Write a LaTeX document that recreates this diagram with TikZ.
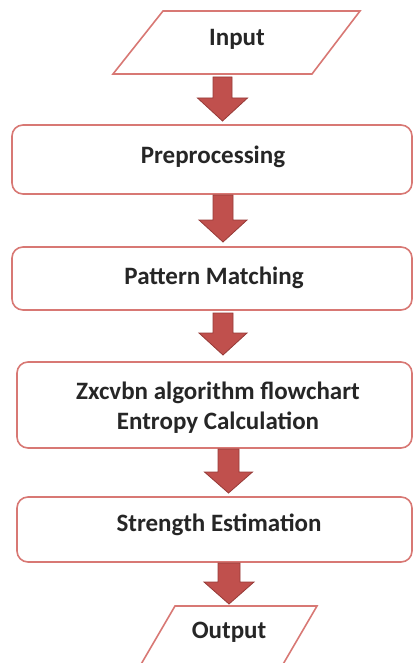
\documentclass[tikz,border=0pt]{standalone}
\usepackage{fontspec}
\setmainfont{Carlito}
\usetikzlibrary{calc}
\definecolor{boxline}{RGB}{216,120,116}
\definecolor{arrfill}{RGB}{192,80,77}
\definecolor{arrline}{RGB}{150,58,55}
\newcommand\blockarrow[6]{% cx, top, headstart, tip, shaft half, head half
  \draw[arrowstyle] (#1-#5,#2) -- (#1+#5,#2) -- (#1+#5,#3) -- (#1+#6,#3) -- (#1,#4) -- (#1-#6,#3) -- (#1-#5,#3) -- cycle;}
\begin{document}
\begin{tikzpicture}[x=1pt,y=-1pt,
  box/.style={draw=boxline, line width=1.6pt, rounded corners=11pt, fill=white},
  lbl/.style={font=\fontsize{25}{30}\selectfont\bfseries, text=black!85, align=center},
  arrowstyle/.style={fill=arrfill, draw=arrline, line width=0.8pt, line join=miter}]
\useasboundingbox (0,0) rectangle (414,663);
\begin{scope}
\clip (0,0) rectangle (414,663);
% Input parallelogram
\draw[boxline, line width=1.6pt, fill=white] (163,11) -- (360,11) -- (312,74) -- (113,74) -- cycle;
\node[lbl] (in) at (237,39) {Input};
% boxes
\draw[box] (12,125) rectangle (412,194);
\node[lbl] (pre) at (213,157) {Preprocessing};
\draw[box] (12,247) rectangle (412,310);
\node[lbl] (pm) at (214,278) {Pattern Matching};
\draw[box] (17,362) rectangle (412,448);
\node[lbl] (zx) at (218,408) {Zxcvbn algorithm flowchart\\Entropy Calculation};
\draw[box] (17,497) rectangle (412,562);
\node[lbl] (se) at (219,525) {Strength Estimation};
% Output parallelogram
\draw[boxline, line width=1.6pt, fill=white] (175,606) -- (317,606) -- (268,690) -- (126,690) -- cycle;
\node[lbl] (out) at (229,632) {Output};
% arrows
\blockarrow{222.5}{77}{98}{121}{9.5}{25}
\blockarrow{223}{195}{220}{242}{10}{24}
\blockarrow{223}{313}{333}{355}{10}{24}
\blockarrow{228.5}{449}{472}{493}{10.5}{24}
\blockarrow{229}{563}{582}{604}{11}{25}
\end{scope}
\end{tikzpicture}
\end{document}
